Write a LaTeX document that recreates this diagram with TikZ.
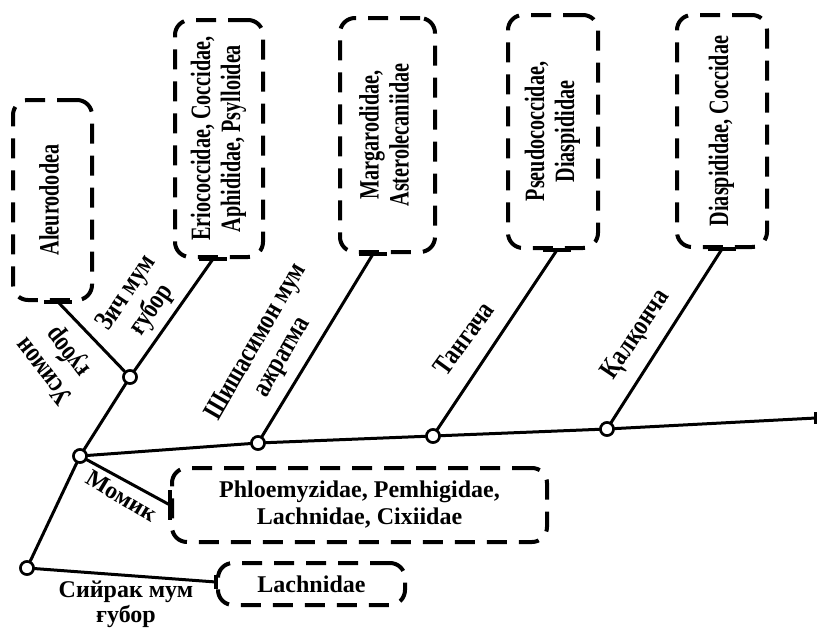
\documentclass[tikz,border=0pt]{standalone}
\usepackage{fontspec}
\setmainfont{Liberation Serif}
\usepackage{graphicx}
\usetikzlibrary{calc}
\newcommand{\boxtxt}[1]{\rotatebox{90}{\scalebox{0.72}[1]{\begin{tabular}{@{}c@{}}#1\end{tabular}}}}
\newcommand{\brtxt}[1]{\scalebox{0.8}[1]{\begin{tabular}{@{}c@{}}#1\end{tabular}}}
\begin{document}
\begin{tikzpicture}[x=1pt,y=-1pt,
  ln/.style={line width=3pt, line cap=round},
  barln/.style={line width=4pt},
  dot/.style={circle, draw, fill=white, line width=2.5pt, minimum size=13pt, inner sep=0pt},
  box/.style={draw, dash pattern=on 20pt off 12pt, line width=4pt, rounded corners=15pt, inner sep=0pt, align=center, font=\fontsize{28}{30}\selectfont\bfseries},
  hbox/.style={box, font=\fontsize{24}{27}\selectfont\bfseries},
  vt/.style={font=\fontsize{28}{30}\selectfont\bfseries, align=center, inner sep=0pt},
  ht/.style={font=\fontsize{24}{25}\selectfont\bfseries, align=center, inner sep=0pt}]
\useasboundingbox (0,0) rectangle (817,627);
% boxes
\node[box, minimum width=79, minimum height=200] (b1) at (52.5,200) {\boxtxt{Aleurododea}};
\node[box, minimum width=88, minimum height=237] (b2) at (219,138.5) {\boxtxt{Eriococcidae, Coccidae,\\Aphididae, Psylloidea}};
\node[box, minimum width=95, minimum height=234] (b3) at (387.5,135) {\boxtxt{Margarodidae,\\Asterolecaniidae}};
\node[box, minimum width=90, minimum height=233] (b4) at (553,131.5) {\boxtxt{Pseudococcidae,\\Diaspididae}};
\node[box, minimum width=90, minimum height=232] (b5) at (722,131) {\boxtxt{Diaspididae, Coccidae}};
\node[hbox, minimum width=375, minimum height=74] (b6) at (359.5,505) {Phloemyzidae, Pemhigidae,\\Lachnidae, Cixiidae};
\node[hbox, minimum width=187, minimum height=42] (b7) at (311.5,584) {Lachnidae};
% contact points
\coordinate (c1) at ($(b1.south)+(5.5,0)$);
\coordinate (c2) at ($(b2.south)+(-6,0)$);
\coordinate (c3) at ($(b3.south)+(-14.5,0)$);
\coordinate (c4) at ($(b4.south)+(4,0)$);
\coordinate (c5) at (b5.south);
\coordinate (c6) at (b6.west);
\coordinate (c7) at ($(b7.west)+(0,-2)$);
\coordinate (mend) at (816,418);
% junctions
\node[dot] (n0) at (80,456) {};
\node[dot] (n1) at (130,377) {};
\node[dot] (n2) at (27,568) {};
\node[dot] (m1) at (258,443) {};
\node[dot] (m2) at (433,436) {};
\node[dot] (m3) at (607,429) {};
% connectors
\begin{scope}[on background layer/.style={}]
\draw[ln] (n0) -- (m1);
\draw[ln] (m1) -- (m2);
\draw[ln] (m2) -- (m3);
\draw[ln] (m3) -- (mend);
\draw[ln] (n2) -- (n0);
\draw[ln] (n0) -- (n1);
\draw[ln] (n1) -- (c2);
\draw[ln] (n1) -- (c1);
\draw[ln] (m1) -- (c3);
\draw[ln] (m2) -- (c4);
\draw[ln] (m3) -- (c5);
\draw[ln] (n0) -- (c6);
\draw[ln] (n2) -- (c7);
\end{scope}
% bars
\foreach \c in {c1,c2,c3,c4,c5} \draw[barln] ($(\c)+(-14,0)$) -- ($(\c)+(14,0)$);
\draw[barln] ($(c6)+(0,-15)$) -- ($(c6)+(0,15)$);
\draw[barln] ($(c7)+(0,-7)$) -- ($(c7)+(0,7)$);
\draw[barln] ($(mend)+(0,-6)$) -- ($(mend)+(0,6)$);
% redraw junctions on top
\foreach \n in {n0,n1,n2,m1,m2,m3} \node[dot] at (\n) {};
% labels
\node[vt, rotate=128] (l1) at (57,361) {\brtxt{Усимон\\ғубор}};
\node[vt, rotate=56] (l2) at (140,302) {\brtxt{Зич мум\\ғубор}};
\node[vt, rotate=60] (l3) at (270,350) {\brtxt{Шишасимон мум\\ажратма}};
\node[vt, rotate=54] (l4) at (466,340) {\brtxt{Тангача}};
\node[vt, rotate=56] (l5) at (637,335) {\brtxt{Қалқонча}};
\node[ht, rotate=-31] (l6) at (122,496) {Момик};
\node[ht] (l7) at (126,604) {Сийрак мум\\ғубор};
\end{tikzpicture}
\end{document}
